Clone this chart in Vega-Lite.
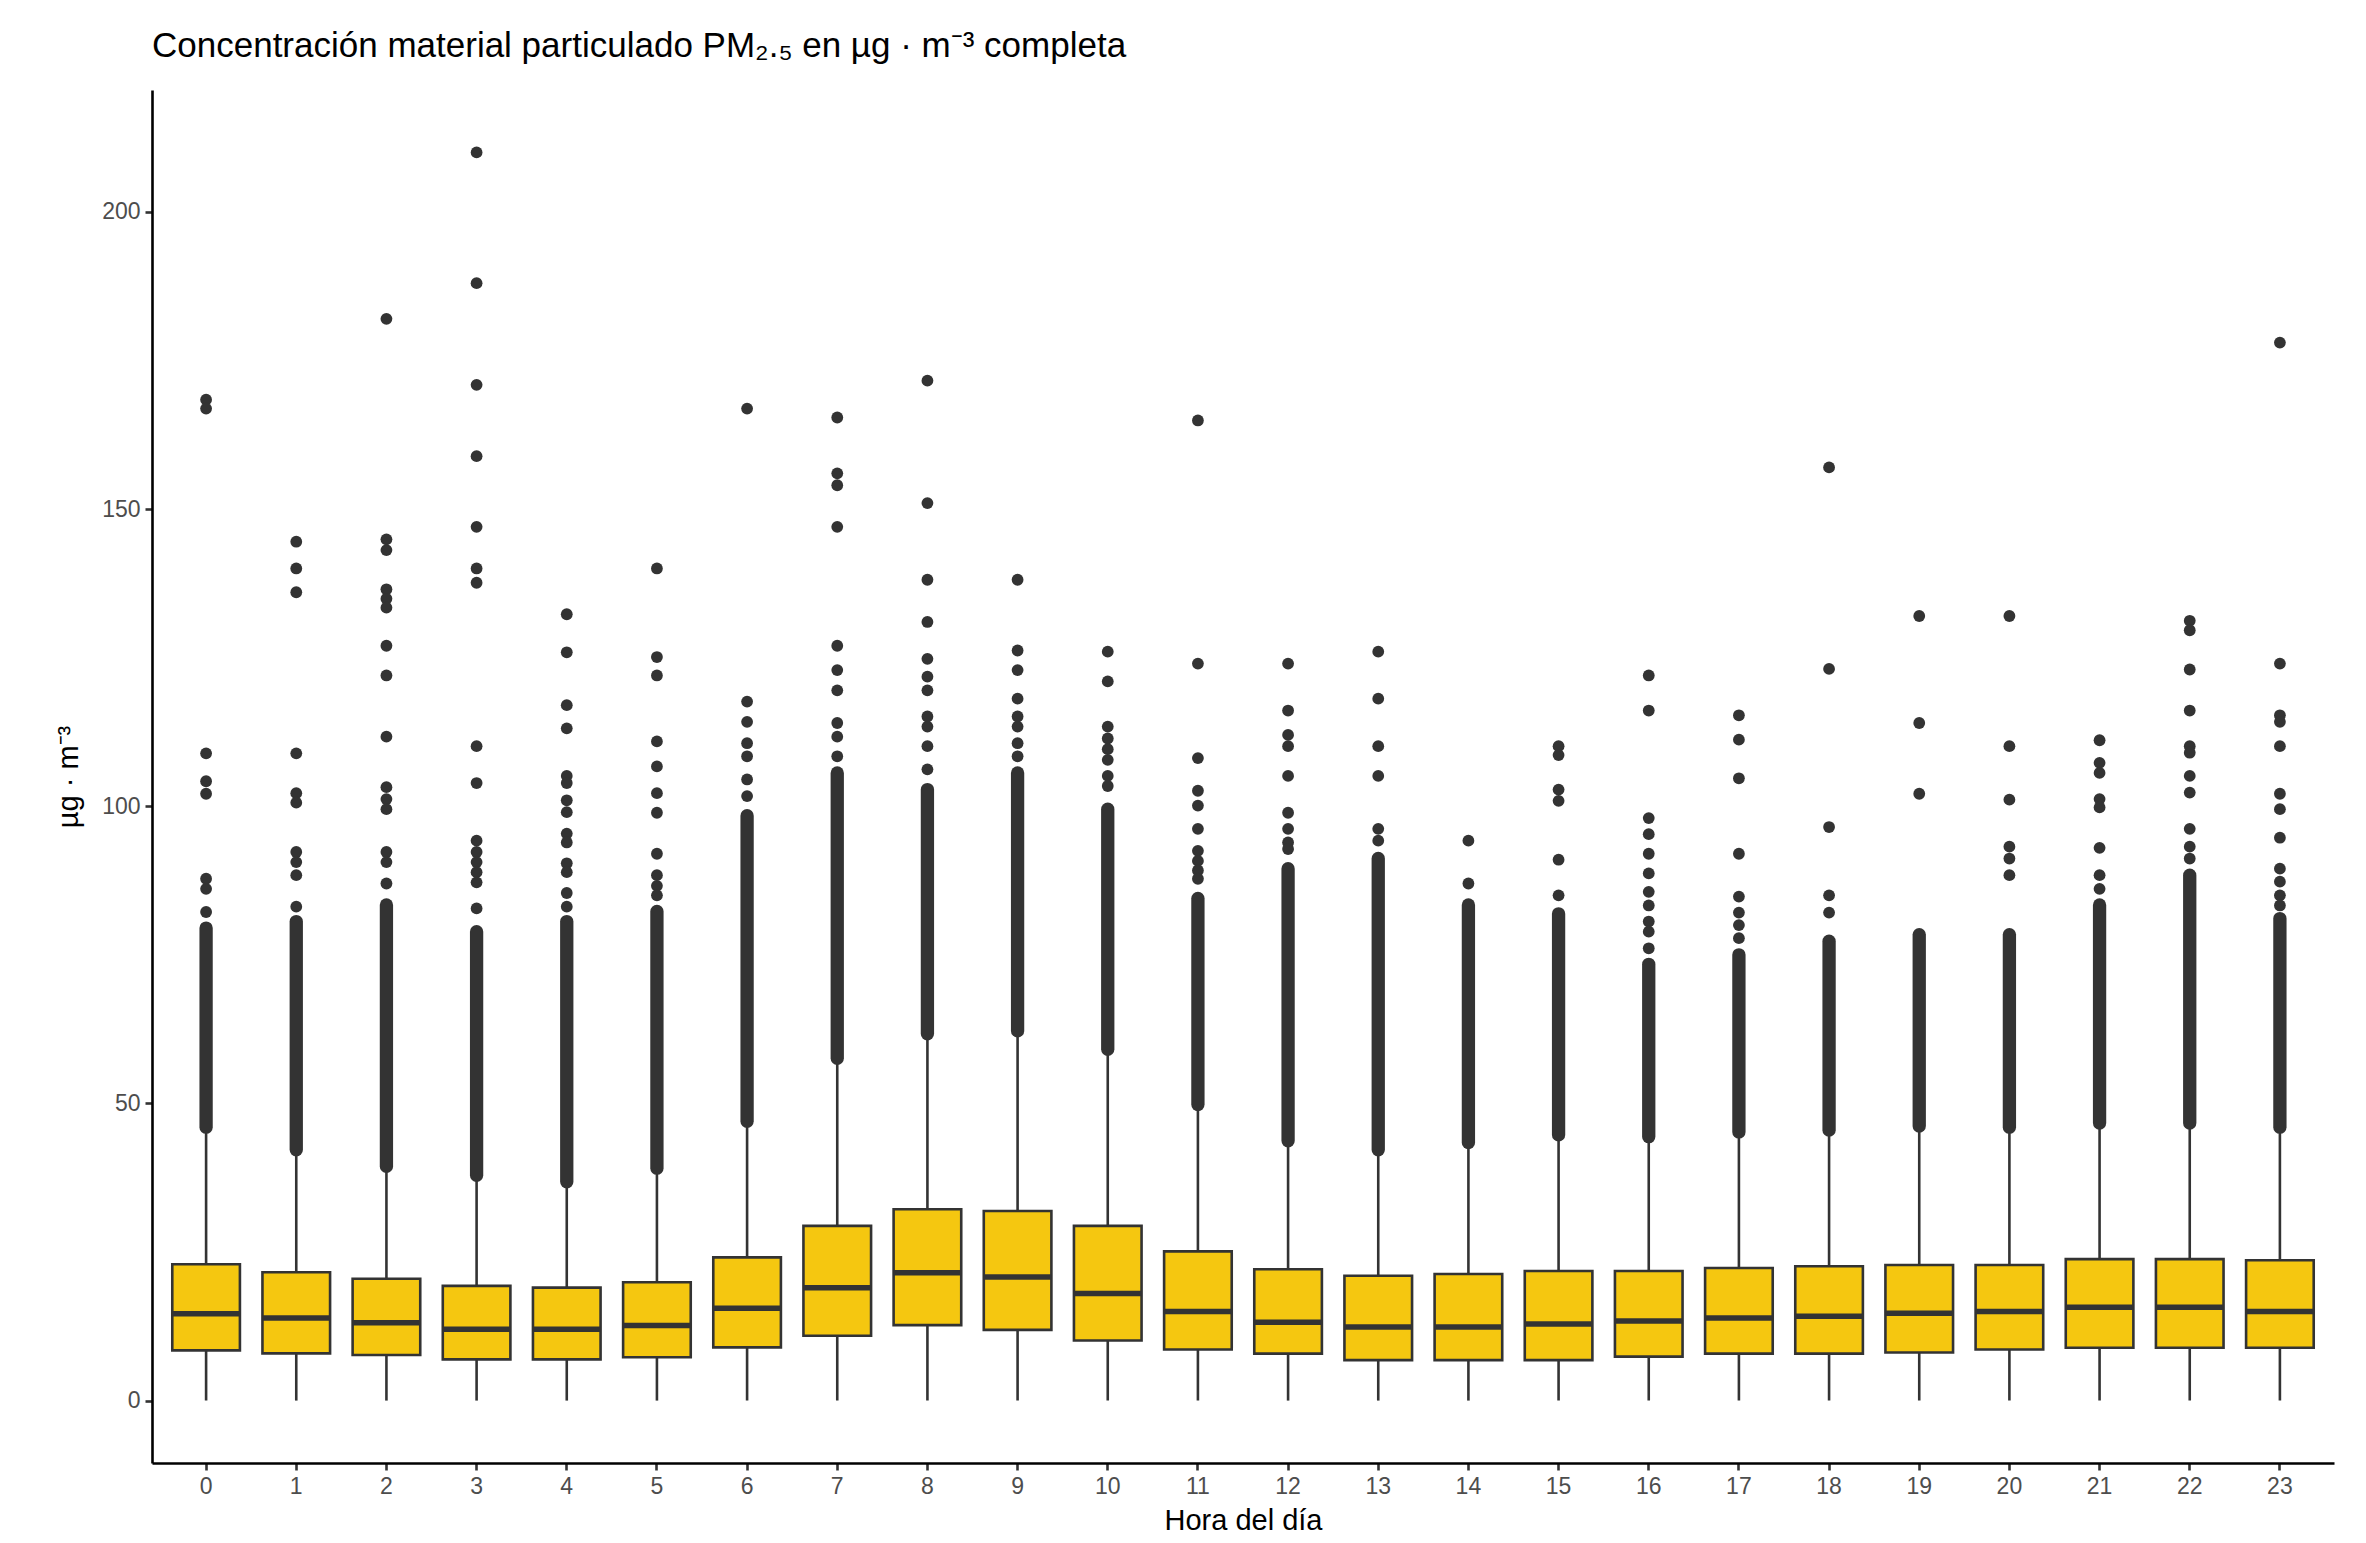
{
  "$schema": "https://vega.github.io/schema/vega-lite/v6.json",
  "width": 2182,
  "height": 1373,
  "autosize": {"type": "none"},
  "padding": {"left": 152, "top": 90, "right": 32, "bottom": 80},
  "background": "white",
  "title": {
    "text": "Concentración material particulado PM₂.₅ en µg · m⁻³ completa",
    "anchor": "start",
    "frame": "group",
    "font": "Liberation Sans",
    "fontSize": 35,
    "fontWeight": "normal",
    "color": "#000000",
    "offset": 26
  },
  "config": {
    "view": {"stroke": null},
    "axis": {
      "grid": false,
      "domainColor": "#000000",
      "domainWidth": 2.6,
      "tickColor": "#333333",
      "tickWidth": 2.6,
      "tickSize": 7,
      "labelFont": "Liberation Sans",
      "labelFontSize": 23,
      "labelColor": "#4D4D4D",
      "labelPadding": 5,
      "titleFont": "Liberation Sans",
      "titleFontSize": 29,
      "titleFontWeight": "normal",
      "titleColor": "#000000"
    }
  },
  "datasets": {
    "cajas": [
      {"hora": 0, "min": 0, "q1": 8.45, "med": 14.6, "q3": 22.95, "max": 45.2, "denso_min": 46.0, "denso_max": 79.5},
      {"hora": 1, "min": 0, "q1": 7.95, "med": 13.9, "q3": 21.6, "max": 41.4, "denso_min": 42.2, "denso_max": 80.6},
      {"hora": 2, "min": 0, "q1": 7.67, "med": 13.1, "q3": 20.5, "max": 38.6, "denso_min": 39.4, "denso_max": 83.4},
      {"hora": 3, "min": 0, "q1": 6.93, "med": 12.0, "q3": 19.3, "max": 37.1, "denso_min": 37.9, "denso_max": 78.9},
      {"hora": 4, "min": 0, "q1": 6.93, "med": 12.0, "q3": 19.0, "max": 36.0, "denso_min": 36.8, "denso_max": 80.6},
      {"hora": 5, "min": 0, "q1": 7.3, "med": 12.65, "q3": 19.9, "max": 38.3, "denso_min": 39.1, "denso_max": 82.3},
      {"hora": 6, "min": 0, "q1": 8.95, "med": 15.55, "q3": 24.1, "max": 46.2, "denso_min": 47.0, "denso_max": 98.4},
      {"hora": 7, "min": 0, "q1": 10.9, "med": 19.0, "q3": 29.4, "max": 56.8, "denso_min": 57.6, "denso_max": 105.6},
      {"hora": 8, "min": 0, "q1": 12.7, "med": 21.5, "q3": 32.2, "max": 60.9, "denso_min": 61.7, "denso_max": 102.8},
      {"hora": 9, "min": 0, "q1": 11.9, "med": 20.8, "q3": 31.9, "max": 61.4, "denso_min": 62.2, "denso_max": 105.6},
      {"hora": 10, "min": 0, "q1": 10.1, "med": 18.0, "q3": 29.4, "max": 58.3, "denso_min": 59.1, "denso_max": 99.5},
      {"hora": 11, "min": 0, "q1": 8.6, "med": 15.0, "q3": 25.1, "max": 49.0, "denso_min": 49.8, "denso_max": 84.5},
      {"hora": 12, "min": 0, "q1": 7.9, "med": 13.2, "q3": 22.1, "max": 42.9, "denso_min": 43.7, "denso_max": 89.5},
      {"hora": 13, "min": 0, "q1": 6.8, "med": 12.4, "q3": 21.0, "max": 41.4, "denso_min": 42.2, "denso_max": 91.2},
      {"hora": 14, "min": 0, "q1": 6.8, "med": 12.4, "q3": 21.3, "max": 42.6, "denso_min": 43.4, "denso_max": 83.4},
      {"hora": 15, "min": 0, "q1": 6.8, "med": 12.9, "q3": 21.8, "max": 43.9, "denso_min": 44.7, "denso_max": 81.9},
      {"hora": 16, "min": 0, "q1": 7.4, "med": 13.4, "q3": 21.8, "max": 43.6, "denso_min": 44.4, "denso_max": 73.4},
      {"hora": 17, "min": 0, "q1": 7.9, "med": 13.9, "q3": 22.3, "max": 44.4, "denso_min": 45.2, "denso_max": 75.0},
      {"hora": 18, "min": 0, "q1": 7.9, "med": 14.2, "q3": 22.6, "max": 44.7, "denso_min": 45.5, "denso_max": 77.3},
      {"hora": 19, "min": 0, "q1": 8.1, "med": 14.7, "q3": 22.8, "max": 45.4, "denso_min": 46.2, "denso_max": 78.4},
      {"hora": 20, "min": 0, "q1": 8.6, "med": 15.0, "q3": 22.8, "max": 45.2, "denso_min": 46.0, "denso_max": 78.4},
      {"hora": 21, "min": 0, "q1": 8.9, "med": 15.7, "q3": 23.8, "max": 45.9, "denso_min": 46.7, "denso_max": 83.4},
      {"hora": 22, "min": 0, "q1": 8.9, "med": 15.7, "q3": 23.8, "max": 45.9, "denso_min": 46.7, "denso_max": 88.4},
      {"hora": 23, "min": 0, "q1": 8.9, "med": 15.0, "q3": 23.6, "max": 45.2, "denso_min": 46.0, "denso_max": 81.1}
    ],
    "atipicos": [
      {"hora": 0, "v": 168.4}, {"hora": 0, "v": 166.9}, {"hora": 0, "v": 108.9}, {"hora": 0, "v": 104.2}, {"hora": 0, "v": 102.1}, {"hora": 0, "v": 87.8}, {"hora": 0, "v": 86.1}, {"hora": 0, "v": 82.2},
      {"hora": 1, "v": 144.5}, {"hora": 1, "v": 140.0}, {"hora": 1, "v": 136.0}, {"hora": 1, "v": 108.9}, {"hora": 1, "v": 102.2}, {"hora": 1, "v": 100.6}, {"hora": 1, "v": 92.3}, {"hora": 1, "v": 90.6}, {"hora": 1, "v": 88.4}, {"hora": 1, "v": 83.1},
      {"hora": 2, "v": 182.0}, {"hora": 2, "v": 144.9}, {"hora": 2, "v": 143.1}, {"hora": 2, "v": 136.5}, {"hora": 2, "v": 134.9}, {"hora": 2, "v": 133.4}, {"hora": 2, "v": 127.0}, {"hora": 2, "v": 122.0}, {"hora": 2, "v": 111.7}, {"hora": 2, "v": 103.2}, {"hora": 2, "v": 101.2}, {"hora": 2, "v": 99.5}, {"hora": 2, "v": 92.3}, {"hora": 2, "v": 90.6}, {"hora": 2, "v": 87.0},
      {"hora": 3, "v": 210.0}, {"hora": 3, "v": 188.0}, {"hora": 3, "v": 170.9}, {"hora": 3, "v": 158.9}, {"hora": 3, "v": 147.0}, {"hora": 3, "v": 140.0}, {"hora": 3, "v": 137.6}, {"hora": 3, "v": 110.1}, {"hora": 3, "v": 103.9}, {"hora": 3, "v": 94.2}, {"hora": 3, "v": 92.3}, {"hora": 3, "v": 90.6}, {"hora": 3, "v": 88.9}, {"hora": 3, "v": 87.2}, {"hora": 3, "v": 82.8},
      {"hora": 4, "v": 132.3}, {"hora": 4, "v": 125.9}, {"hora": 4, "v": 117.0}, {"hora": 4, "v": 113.1}, {"hora": 4, "v": 105.1}, {"hora": 4, "v": 103.9}, {"hora": 4, "v": 101.0}, {"hora": 4, "v": 99.0}, {"hora": 4, "v": 95.4}, {"hora": 4, "v": 93.9}, {"hora": 4, "v": 90.4}, {"hora": 4, "v": 88.9}, {"hora": 4, "v": 85.4}, {"hora": 4, "v": 83.1},
      {"hora": 5, "v": 140.0}, {"hora": 5, "v": 125.1}, {"hora": 5, "v": 122.0}, {"hora": 5, "v": 110.9}, {"hora": 5, "v": 106.7}, {"hora": 5, "v": 102.2}, {"hora": 5, "v": 98.9}, {"hora": 5, "v": 92.0}, {"hora": 5, "v": 88.4}, {"hora": 5, "v": 86.6}, {"hora": 5, "v": 85.0},
      {"hora": 6, "v": 166.9}, {"hora": 6, "v": 117.6}, {"hora": 6, "v": 114.2}, {"hora": 6, "v": 110.6}, {"hora": 6, "v": 108.4}, {"hora": 6, "v": 104.5}, {"hora": 6, "v": 101.7},
      {"hora": 7, "v": 165.4}, {"hora": 7, "v": 156.0}, {"hora": 7, "v": 154.0}, {"hora": 7, "v": 147.0}, {"hora": 7, "v": 127.0}, {"hora": 7, "v": 122.9}, {"hora": 7, "v": 119.5}, {"hora": 7, "v": 114.0}, {"hora": 7, "v": 111.7}, {"hora": 7, "v": 108.4},
      {"hora": 8, "v": 171.6}, {"hora": 8, "v": 151.0}, {"hora": 8, "v": 138.1}, {"hora": 8, "v": 131.0}, {"hora": 8, "v": 124.8}, {"hora": 8, "v": 121.8}, {"hora": 8, "v": 119.5}, {"hora": 8, "v": 115.1}, {"hora": 8, "v": 113.4}, {"hora": 8, "v": 110.1}, {"hora": 8, "v": 106.2},
      {"hora": 9, "v": 138.1}, {"hora": 9, "v": 126.2}, {"hora": 9, "v": 122.9}, {"hora": 9, "v": 118.1}, {"hora": 9, "v": 115.1}, {"hora": 9, "v": 113.4}, {"hora": 9, "v": 110.6}, {"hora": 9, "v": 108.4},
      {"hora": 10, "v": 126.0}, {"hora": 10, "v": 121.0}, {"hora": 10, "v": 113.4}, {"hora": 10, "v": 111.4}, {"hora": 10, "v": 109.6}, {"hora": 10, "v": 107.8}, {"hora": 10, "v": 105.1}, {"hora": 10, "v": 103.4},
      {"hora": 11, "v": 164.9}, {"hora": 11, "v": 124.0}, {"hora": 11, "v": 108.1}, {"hora": 11, "v": 102.6}, {"hora": 11, "v": 100.1}, {"hora": 11, "v": 96.2}, {"hora": 11, "v": 92.5}, {"hora": 11, "v": 90.8}, {"hora": 11, "v": 89.2}, {"hora": 11, "v": 87.8},
      {"hora": 12, "v": 124.0}, {"hora": 12, "v": 116.1}, {"hora": 12, "v": 112.0}, {"hora": 12, "v": 110.1}, {"hora": 12, "v": 105.1}, {"hora": 12, "v": 98.9}, {"hora": 12, "v": 96.2}, {"hora": 12, "v": 93.9}, {"hora": 12, "v": 92.8},
      {"hora": 13, "v": 126.0}, {"hora": 13, "v": 118.1}, {"hora": 13, "v": 110.1}, {"hora": 13, "v": 105.1}, {"hora": 13, "v": 96.2}, {"hora": 13, "v": 94.2},
      {"hora": 14, "v": 94.2}, {"hora": 14, "v": 87.0},
      {"hora": 15, "v": 110.1}, {"hora": 15, "v": 108.6}, {"hora": 15, "v": 102.8}, {"hora": 15, "v": 100.9}, {"hora": 15, "v": 91.0}, {"hora": 15, "v": 85.0},
      {"hora": 16, "v": 122.0}, {"hora": 16, "v": 116.1}, {"hora": 16, "v": 98.0}, {"hora": 16, "v": 95.3}, {"hora": 16, "v": 92.0}, {"hora": 16, "v": 88.7}, {"hora": 16, "v": 85.6}, {"hora": 16, "v": 83.3}, {"hora": 16, "v": 80.6}, {"hora": 16, "v": 78.9}, {"hora": 16, "v": 76.1},
      {"hora": 17, "v": 115.3}, {"hora": 17, "v": 111.2}, {"hora": 17, "v": 104.7}, {"hora": 17, "v": 92.0}, {"hora": 17, "v": 84.8}, {"hora": 17, "v": 82.1}, {"hora": 17, "v": 80.0}, {"hora": 17, "v": 77.8},
      {"hora": 18, "v": 157.0}, {"hora": 18, "v": 123.1}, {"hora": 18, "v": 96.5}, {"hora": 18, "v": 85.0}, {"hora": 18, "v": 82.1},
      {"hora": 19, "v": 132.0}, {"hora": 19, "v": 114.0}, {"hora": 19, "v": 102.1},
      {"hora": 20, "v": 132.0}, {"hora": 20, "v": 110.1}, {"hora": 20, "v": 101.1}, {"hora": 20, "v": 93.2}, {"hora": 20, "v": 91.2}, {"hora": 20, "v": 88.4},
      {"hora": 21, "v": 111.1}, {"hora": 21, "v": 107.3}, {"hora": 21, "v": 105.6}, {"hora": 21, "v": 101.2}, {"hora": 21, "v": 99.8}, {"hora": 21, "v": 93.0}, {"hora": 21, "v": 88.4}, {"hora": 21, "v": 86.1},
      {"hora": 22, "v": 131.2}, {"hora": 22, "v": 129.6}, {"hora": 22, "v": 123.0}, {"hora": 22, "v": 116.1}, {"hora": 22, "v": 110.1}, {"hora": 22, "v": 109.0}, {"hora": 22, "v": 105.1}, {"hora": 22, "v": 102.3}, {"hora": 22, "v": 96.2}, {"hora": 22, "v": 93.2}, {"hora": 22, "v": 91.2},
      {"hora": 23, "v": 178.0}, {"hora": 23, "v": 124.0}, {"hora": 23, "v": 115.3}, {"hora": 23, "v": 114.2}, {"hora": 23, "v": 110.1}, {"hora": 23, "v": 102.1}, {"hora": 23, "v": 99.5}, {"hora": 23, "v": 94.7}, {"hora": 23, "v": 89.5}, {"hora": 23, "v": 87.3}, {"hora": 23, "v": 85.0}, {"hora": 23, "v": 83.3}
    ]
  },
  "encoding": {
    "x": {
      "field": "hora",
      "type": "ordinal",
      "scale": {"paddingInner": 0, "paddingOuter": 0.1},
      "axis": {"title": "Hora del día", "labelAngle": 0, "titlePadding": 8}
    }
  },
  "layer": [
    {
      "data": {"name": "cajas"},
      "mark": {"type": "rule", "color": "#333333", "strokeWidth": 2.6},
      "encoding": {
        "y": {
          "field": "min",
          "type": "quantitative",
          "scale": {"domain": [-10.5, 220.5], "nice": false, "zero": false},
          "axis": {"title": "µg · m⁻³", "values": [0, 50, 100, 150, 200], "titlePadding": 18}
        },
        "y2": {"field": "max"}
      }
    },
    {
      "data": {"name": "cajas"},
      "mark": {"type": "bar", "fill": "#F5C710", "stroke": "#333333", "strokeWidth": 2.6, "width": {"band": 0.75}},
      "encoding": {
        "y": {"field": "q1", "type": "quantitative"},
        "y2": {"field": "q3"}
      }
    },
    {
      "data": {"name": "cajas"},
      "mark": {"type": "tick", "color": "#333333", "thickness": 5.5, "size": 67, "opacity": 1},
      "encoding": {
        "y": {"field": "med", "type": "quantitative"}
      }
    },
    {
      "data": {"name": "cajas"},
      "mark": {"type": "rule", "color": "#333333", "strokeWidth": 13.3, "strokeCap": "round"},
      "encoding": {
        "y": {"field": "denso_min", "type": "quantitative"},
        "y2": {"field": "denso_max"}
      }
    },
    {
      "data": {"name": "atipicos"},
      "mark": {"type": "point", "filled": true, "color": "#333333", "size": 139, "opacity": 1, "strokeWidth": 0},
      "encoding": {
        "y": {"field": "v", "type": "quantitative"}
      }
    }
  ]
}
